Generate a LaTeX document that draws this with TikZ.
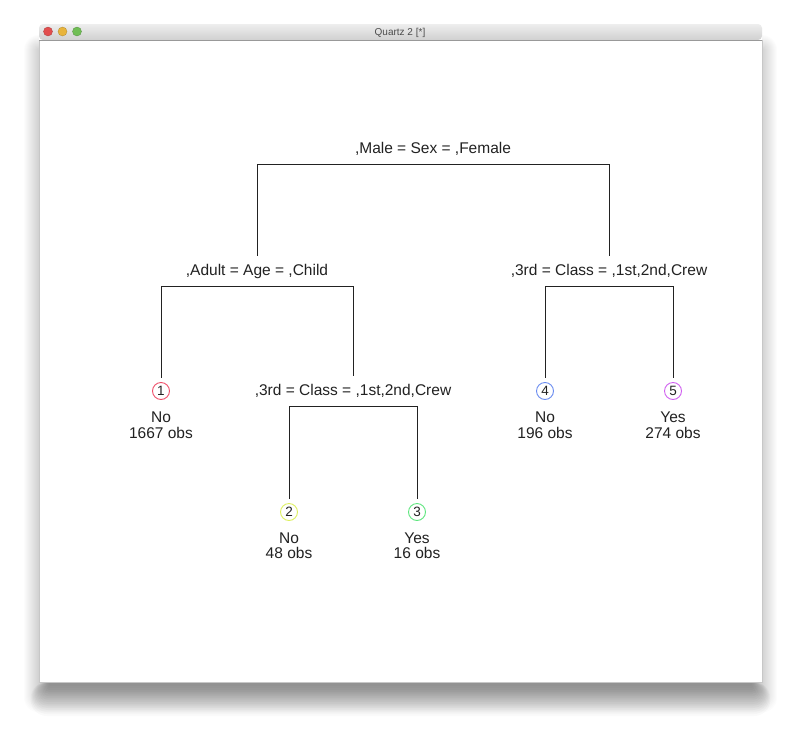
\documentclass[tikz,border=0pt]{standalone}
\usepackage{fontspec}
\setmainfont{Liberation Sans}
\definecolor{ink}{HTML}{222222}
\definecolor{cone}{HTML}{F0506A}
\definecolor{ctwo}{HTML}{DDF060}
\definecolor{cthree}{HTML}{5FE67F}
\definecolor{cfour}{HTML}{6A8CF0}
\definecolor{cfive}{HTML}{D060F0}
\definecolor{bartop}{HTML}{EEEEEE}
\definecolor{barbot}{HTML}{D0D0D0}
\definecolor{lred}{HTML}{E24E4E}
\definecolor{lyellow}{HTML}{E8B43C}
\definecolor{lgreen}{HTML}{70BE55}
\begin{document}
\begin{tikzpicture}[x=1pt,y=-1pt,
  split/.style={font=\fontsize{15.5}{17}\selectfont, text=ink, anchor=base,
    text height=11pt, text depth=3pt, inner xsep=2pt, inner ysep=8pt},
  leaf/.style={circle, draw=#1, line width=0.9pt, minimum size=17pt, inner sep=0pt,
    outer sep=5pt, font=\fontsize{13.5}{14}\selectfont, text=ink},
  lab/.style={font=\fontsize{15.5}{17}\selectfont, text=ink, anchor=base, inner sep=0pt},
  edge/.style={draw=ink, line width=0.9pt},
  light/.style={circle, minimum size=9pt, inner sep=0pt, fill=#1, draw=#1!75!black, line width=0.3pt}]
\useasboundingbox (0,0) rectangle (800,736);
\fill[white] (0,0) rectangle (800,736);
% soft shadow round the window
\foreach \i in {1,...,15}{
  \fill[black, opacity=0.012, rounded corners=\i pt]
    (39-\i, 50-\i) rectangle (762+\i, 690+\i*1.5);
}
% heavier shadow below the window
\foreach \i in {1,...,16}{
  \fill[black, opacity=0.021, rounded corners=\i pt]
    (50-\i*1.2, 682) rectangle (751+\i*1.2, 684+\i*2);
}
% window
\fill[white] (39,24) rectangle (762,682);
\draw[black!22, line width=0.6pt] (39,40) -- (39,682) -- (762,682) -- (762,40);
\shade[top color=bartop, bottom color=barbot, rounded corners=4pt]
  (39,40) -- (39,24) -- (762,24) -- (762,40) -- cycle;
\draw[black!40, line width=0.6pt] (39,40) -- (762,40);
\node[light=lred] (close) at (48,31.5) {};
\node[light=lyellow] (mini) at (62.5,31.5) {};
\node[light=lgreen] (zoomb) at (77,31.5) {};
\node[font=\fontsize{10}{12}\selectfont, text=black!70, anchor=base, inner sep=0pt] (title) at (400,35) {Quartz 2 [*]};
% tree
\node[split] (root) at (433,153) {,Male = Sex = ,Female};
\node[split] (age) at (257,275) {,Adult = Age = ,Child};
\node[split] (classR) at (609,275) {,3rd = Class = ,1st,2nd,Crew};
\node[split] (classL) at (353,395) {,3rd = Class = ,1st,2nd,Crew};
\node[leaf=cone] (n1) at (161,391) {1};
\node[leaf=ctwo] (n2) at (289,512) {2};
\node[leaf=cthree] (n3) at (417,512) {3};
\node[leaf=cfour] (n4) at (545,391) {4};
\node[leaf=cfive] (n5) at (673,391) {5};
\node[lab] (y1) at (161,422) {No};
\node[lab] (o1) at (161,438) {1667 obs};
\node[lab] (y2) at (289,543) {No};
\node[lab] (o2) at (289,558) {48 obs};
\node[lab] (y3) at (417,543) {Yes};
\node[lab] (o3) at (417,558) {16 obs};
\node[lab] (y4) at (545,422) {No};
\node[lab] (o4) at (545,438) {196 obs};
\node[lab] (y5) at (673,422) {Yes};
\node[lab] (o5) at (673,438) {274 obs};
\draw[edge] (age.north) |- (root.south) -| (classR.north);
\draw[edge] (n1.north) |- (age.south) -| (classL.north);
\draw[edge] (n4.north) |- (classR.south) -| (n5.north);
\draw[edge] (n2.north) |- (classL.south) -| (n3.north);
\end{tikzpicture}
\end{document}
